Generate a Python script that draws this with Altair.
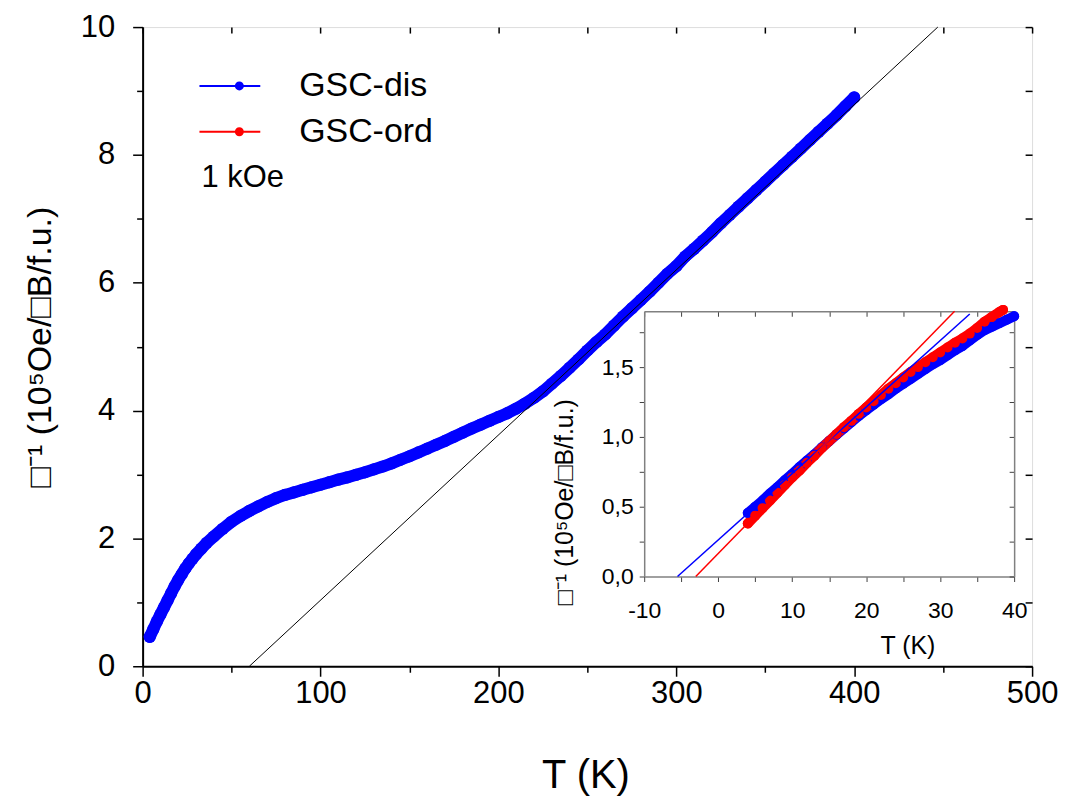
import altair as alt
import pandas as pd

FONT = "Liberation Sans"

# ---------------- data ----------------
series = ["GSC-dis", "GSC-ord"]
colors = ["#0000ff", "#ff0000"]

# main panel: GSC-dis, inverse susceptibility vs T
main_T = [4, 6, 8, 10, 12, 14, 16, 18, 20, 22, 24, 26, 28, 30, 33, 36, 40, 45, 50, 55,
          60, 65, 70, 75, 80, 85, 90, 95, 100, 105, 110, 115, 120, 125, 130, 135, 140, 145,
          150, 155, 160, 165, 170, 175, 180, 185, 190, 195, 200, 205, 210, 215, 220, 225,
          230, 235, 240, 245, 250, 255, 260, 265, 270, 275, 280, 285, 290, 295, 300, 305,
          310, 315, 320, 325, 330, 335, 340, 345, 350, 355, 360, 365, 370, 375, 380, 385,
          390, 395, 400]
main_chi = [0.46, 0.58, 0.70, 0.81, 0.92, 1.03, 1.14, 1.25, 1.35, 1.44, 1.53, 1.61, 1.68,
            1.75, 1.84, 1.93, 2.03, 2.15, 2.26, 2.35, 2.43, 2.50, 2.57, 2.63, 2.68, 2.72,
            2.76, 2.80, 2.84, 2.88, 2.92, 2.955, 2.995, 3.035, 3.08, 3.125, 3.175, 3.23,
            3.285, 3.345, 3.405, 3.465, 3.525, 3.59, 3.655, 3.72, 3.78, 3.84, 3.90, 3.96,
            4.03, 4.11, 4.20, 4.30, 4.42, 4.54, 4.67, 4.80, 4.94, 5.07, 5.19, 5.33, 5.47,
            5.60, 5.73, 5.86, 6.00, 6.14, 6.26, 6.41, 6.53, 6.66, 6.79, 6.93, 7.06, 7.19,
            7.32, 7.45, 7.58, 7.71, 7.84, 7.97, 8.10, 8.23, 8.36, 8.49, 8.62, 8.76, 8.90]

# Curie-Weiss fit line in main panel
fit_T = [60, 447]
fit_chi = [0.0, 10.0]

# inset: low-temperature data
inset_dis_T = [4, 5, 6, 7, 8, 9, 10, 11, 12, 13, 14, 15, 16, 17, 18, 19, 20, 21, 22, 23,
               24, 25, 26, 27, 28, 29, 30, 31, 32, 33, 34, 35, 36, 37, 38, 39, 40]
inset_dis_chi = [0.455, 0.50, 0.545, 0.595, 0.64, 0.69, 0.735, 0.785, 0.83, 0.875, 0.925,
                 0.97, 1.015, 1.06, 1.105, 1.15, 1.19, 1.23, 1.27, 1.305, 1.345, 1.38,
                 1.415, 1.45, 1.485, 1.52, 1.55, 1.585, 1.62, 1.65, 1.69, 1.73, 1.765,
                 1.79, 1.815, 1.84, 1.865]
inset_ord_T = [4, 5, 6, 7, 8, 9, 10, 11, 12, 13, 14, 15, 16, 17, 18, 19, 20, 21, 22, 23,
               24, 25, 26, 27, 28, 29, 30, 31, 32, 33, 34, 35, 36, 37, 38, 38.5]
inset_ord_chi = [0.38, 0.435, 0.49, 0.545, 0.60, 0.655, 0.71, 0.76, 0.815, 0.865, 0.92,
                 0.97, 1.02, 1.07, 1.115, 1.165, 1.21, 1.255, 1.30, 1.345, 1.385, 1.425,
                 1.465, 1.50, 1.535, 1.57, 1.605, 1.64, 1.675, 1.705, 1.74, 1.78, 1.825,
                 1.86, 1.895, 1.91]
inset_fit_dis_T = [-5.5, 34.0]
inset_fit_dis_chi = [0.0, 1.88]
inset_fit_ord_T = [-3.03, 31.95]
inset_fit_ord_chi = [0.0, 1.90]

# axes
main_x_domain = [0, 500]
main_y_domain = [0, 10]
main_x_ticks = list(range(0, 501, 50))
main_y_ticks = list(range(0, 11))
inset_x_domain = [-10, 40]
inset_y_domain = [0, 1.9]
inset_x_ticks = list(range(-10, 41, 5))
inset_y_ticks = [0, 0.25, 0.5, 0.75, 1.0, 1.25, 1.5, 1.75]

y_title = "\u25a1\u207b\u00b9 (10\u2075Oe/\u25a1B/f.u.)"

# ---------------- layout ----------------
W, H = 892, 641
INS_L, INS_R, INS_T, INS_B = 503, 874, 285, 551   # inset frame inside plot area (px)

main_df = pd.DataFrame({"T": main_T, "chi": main_chi, "series": series[0]})
fit_df = pd.DataFrame({"T": fit_T, "chi": fit_chi})
inset_df = pd.concat([
    pd.DataFrame({"T": inset_dis_T, "chi": inset_dis_chi, "series": series[0]}),
    pd.DataFrame({"T": inset_ord_T, "chi": inset_ord_chi, "series": series[1]}),
], ignore_index=True)
inset_fit_df = pd.concat([
    pd.DataFrame({"T": inset_fit_dis_T, "chi": inset_fit_dis_chi, "series": series[0]}),
    pd.DataFrame({"T": inset_fit_ord_T, "chi": inset_fit_ord_chi, "series": series[1]}),
], ignore_index=True)

color_scale = alt.Scale(domain=series, range=colors)

def mxs():
    return alt.Scale(domain=main_x_domain, nice=False, zero=False)

def mys():
    return alt.Scale(domain=main_y_domain, nice=False, zero=False)

def ixs():
    return alt.Scale(domain=inset_x_domain, range=[INS_L, INS_R], nice=False, zero=False)

def iys():
    return alt.Scale(domain=inset_y_domain, range=[INS_B, INS_T], nice=False, zero=False)

# legend symbol: a line with a filled dot (concentric stroked rings)
legend_symbol = ("M-1.9,0H4.2"
                 "M2.45,0A0.35,0.35,0,1,0,1.75,0A0.35,0.35,0,1,0,2.45,0"
                 "M2.3,0A0.2,0.2,0,1,0,1.9,0A0.2,0.2,0,1,0,2.3,0"
                 "M2.17,0A0.07,0.07,0,1,0,2.03,0A0.07,0.07,0,1,0,2.17,0")

def the_legend():
    return alt.Legend(
        orient="none", legendX=59, legendY=42,
        title="1 kOe", titleOrient="bottom", titleAnchor="start", titleAlign="left",
        titleFontSize=31, titleFont=FONT, titleFontWeight="normal", titleColor="black",
        titlePadding=14,
        labelFontSize=34, labelFont=FONT, labelColor="black", labelOffset=64,
        symbolType=legend_symbol, symbolSize=400, symbolStrokeWidth=2,
        rowPadding=12, padding=0,
    )

def color_enc():
    return alt.Color("series:N", scale=color_scale, legend=the_legend())

common = dict(grid=False, labelFont=FONT, titleFont=FONT, labelColor="black",
              titleColor="black", titleFontWeight="normal", labelOverlap=False)

main_x_axis = alt.Axis(
    orient="bottom", values=main_x_ticks,
    labelExpr="datum.value % 100 === 0 ? '' + datum.value : ''",
    tickSize={"condition": {"test": "datum.value % 100 === 0", "value": 10}, "value": 6},
    labelFontSize=31, labelPadding=2, labelFlush=False,
    title="T (K)", titleFontSize=40, titleX=444, titleY=122,
    titleBaseline="alphabetic", titleAlign="center", titleAngle=0,
    domainColor="black", domainWidth=2, tickColor="black", tickWidth=1.5, **common)

main_y_axis = alt.Axis(
    orient="left", values=main_y_ticks,
    labelExpr="datum.value % 2 === 0 ? '' + datum.value : ''",
    tickSize={"condition": {"test": "datum.value % 2 === 0", "value": 10}, "value": 6},
    labelFontSize=31, labelPadding=18,
    title=y_title, titleFontSize=34, titleX=-92, titleY=H / 2,
    titleBaseline="alphabetic", titleAlign="center", titleAngle=270,
    domainColor="black", domainWidth=2, tickColor="black", tickWidth=1.5, **common)

main_band = alt.Chart(main_df).mark_line(strokeWidth=12, strokeCap="round",
                                         strokeJoin="round").encode(
    x=alt.X("T:Q", scale=mxs(), axis=main_x_axis),
    y=alt.Y("chi:Q", scale=mys(), axis=main_y_axis),
    color=color_enc(),
    order="T:Q",
)
main_pts = alt.Chart(main_df).mark_circle(size=150, opacity=1).encode(
    x=alt.X("T:Q", scale=mxs(), axis=None),
    y=alt.Y("chi:Q", scale=mys(), axis=None),
    color=color_enc(),
)
main_fit = alt.Chart(fit_df).mark_line(color="black", strokeWidth=1).encode(
    x=alt.X("T:Q", scale=mxs(), axis=None),
    y=alt.Y("chi:Q", scale=mys(), axis=None),
)

# inward ticks on top / right of main frame
main_frame_df = pd.DataFrame({"T": main_x_domain, "chi": main_y_domain})
main_frame = alt.Chart(main_frame_df).mark_point(opacity=0).encode(
    x=alt.X("T:Q", scale=mxs(), axis=alt.Axis(
        orient="bottom", offset=-H, values=main_x_ticks, tickSize=6, labels=False,
        domain=False, title=None, tickColor="black", tickWidth=1.5, grid=False)),
    y=alt.Y("chi:Q", scale=mys(), axis=alt.Axis(
        orient="left", offset=-W, values=main_y_ticks, tickSize=7, labels=False,
        domain=False, title=None, tickColor="black", tickWidth=1.5, grid=False)),
)

inset_x_axis = alt.Axis(
    orient="bottom", offset=-(H - INS_B), values=inset_x_ticks,
    labelExpr="datum.value % 10 === 0 ? '' + datum.value : ''",
    tickSize=5, labelFontSize=23, labelPadding=18, labelFlush=False,
    title="T (K)", titleFontSize=25, titleX=767, titleY=77,
    titleBaseline="alphabetic", titleAlign="center", titleAngle=0,
    domainColor="#808080", domainWidth=1.5, tickColor="#404040", tickWidth=1, **common)
inset_y_axis = alt.Axis(
    orient="left", offset=-INS_L, values=inset_y_ticks,
    labelExpr="(datum.value * 2) % 1 === 0 ? replace(format(datum.value, '.1f'), '.', ',') : ''",
    tickSize=5, labelFontSize=23, labelPadding=6,
    title=y_title, titleFontSize=25, titleX=-72, titleY=476,
    titleBaseline="alphabetic", titleAlign="center", titleAngle=270,
    domainColor="#808080", domainWidth=1.5, tickColor="#404040", tickWidth=1, **common)

inset_lines = alt.Chart(inset_df).mark_line(strokeWidth=10, strokeCap="round").encode(
    x=alt.X("T:Q", scale=ixs(), axis=inset_x_axis),
    y=alt.Y("chi:Q", scale=iys(), axis=inset_y_axis),
    color=color_enc(),
    order="T:Q",
)
inset_pts = alt.Chart(inset_df).mark_circle(size=100, opacity=1).encode(
    x=alt.X("T:Q", scale=ixs(), axis=None),
    y=alt.Y("chi:Q", scale=iys(), axis=None),
    color=color_enc(),
)
inset_fit = alt.Chart(inset_fit_df).mark_line(strokeWidth=1.5).encode(
    x=alt.X("T:Q", scale=ixs(), axis=None),
    y=alt.Y("chi:Q", scale=iys(), axis=None),
    color=color_enc(),
)

inset_frame_df = pd.DataFrame({"T": inset_x_domain, "chi": inset_y_domain})
inset_frame = alt.Chart(inset_frame_df).mark_point(opacity=0).encode(
    x=alt.X("T:Q", scale=ixs(), axis=alt.Axis(
        orient="bottom", offset=-(H - INS_T), values=inset_x_ticks, tickSize=5,
        labels=False, domain=True, domainColor="#808080", domainWidth=1.5,
        title=None, tickColor="#404040", tickWidth=1, grid=False)),
    y=alt.Y("chi:Q", scale=iys(), axis=alt.Axis(
        orient="left", offset=-INS_R, values=inset_y_ticks, tickSize=5,
        labels=False, domain=True, domainColor="#808080", domainWidth=1.5,
        title=None, tickColor="#404040", tickWidth=1, grid=False)),
)

chart = alt.layer(
    main_band, main_pts, main_fit, main_frame,
    inset_lines, inset_pts, inset_fit, inset_frame,
).resolve_scale(
    x="independent", y="independent"
).properties(
    width=W, height=H,
    autosize=alt.AutoSizeParams(type="none"),
    padding={"left": 135, "top": 18, "right": 32, "bottom": 138},
).configure_view(stroke="black", strokeWidth=2).configure(background="white")

chart.save("out.html", embed_options={"renderer": "svg", "actions": False})
